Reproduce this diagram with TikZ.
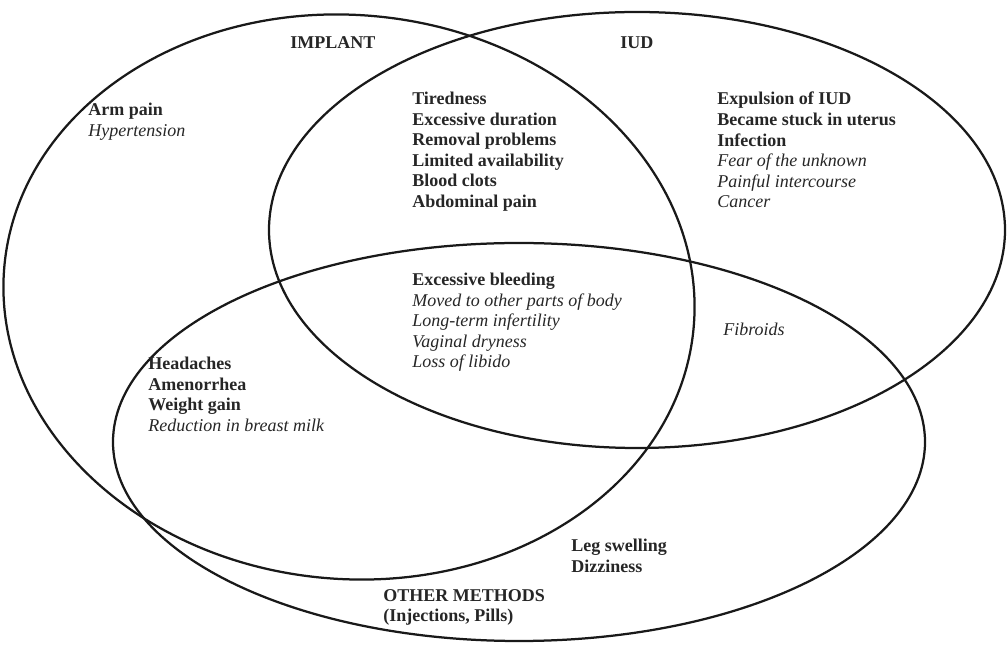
\documentclass[tikz,border=0pt]{standalone}
\usepackage{fontspec}
\setmainfont{Liberation Serif}
\usetikzlibrary{positioning}

\begin{document}
\begin{tikzpicture}[
    x=0.025cm, y=-0.025cm,
    circ/.style={line width=1.6pt, black!90},
    every node/.style={inner sep=0pt, font=\fontsize{12.8}{14.6}\selectfont, text=black!85},
    group/.style={font=\fontsize{12.8}{14.6}\selectfont\bfseries},
    items/.style={align=left, anchor=north west}
]
\useasboundingbox (0,0) rectangle (1008,661);

% Circles
\draw[circ, rotate around={-5:(349,297)}] (349,297) ellipse [x radius=346, y radius=282];
\draw[circ] (637,230) ellipse [x radius=368, y radius=218];
\draw[circ] (519,442) ellipse [x radius=406, y radius=199];

% Group names
\node[group, anchor=west] (implant) at (290,43) {IMPLANT};
\node[group, anchor=west] (iud) at (620,43) {IUD};
\node[group, items] (other) at (383,589) {OTHER METHODS\\(Injections, Pills)};

% Implant only
\node[items] (implantonly) at (88,103) {\textbf{Arm pain}\\\textit{Hypertension}};

% Implant and IUD
\node[items] (implantiud) at (412,92) {\textbf{Tiredness}\\\textbf{Excessive duration}\\\textbf{Removal problems}\\\textbf{Limited availability}\\\textbf{Blood clots}\\\textbf{Abdominal pain}};

% IUD only
\node[items] (iudonly) at (717,92) {\textbf{Expulsion of IUD}\\\textbf{Became stuck in uterus}\\\textbf{Infection}\\\textit{Fear of the unknown}\\\textit{Painful intercourse}\\\textit{Cancer}};

% All three
\node[items] (allthree) at (412,273) {\textbf{Excessive bleeding}\\\textit{Moved to other parts of body}\\\textit{Long-term infertility}\\\textit{Vaginal dryness}\\\textit{Loss of libido}};

% IUD and other
\node[items] (iudother) at (723,323) {\textit{Fibroids}};

% Implant and other
\node[items] (implantother) at (148,357) {\textbf{Headaches}\\\textbf{Amenorrhea}\\\textbf{Weight gain}\\\textit{Reduction in breast milk}};

% Other only
\node[items] (otheronly) at (571,539) {\textbf{Leg swelling}\\\textbf{Dizziness}};

\end{tikzpicture}
\end{document}
